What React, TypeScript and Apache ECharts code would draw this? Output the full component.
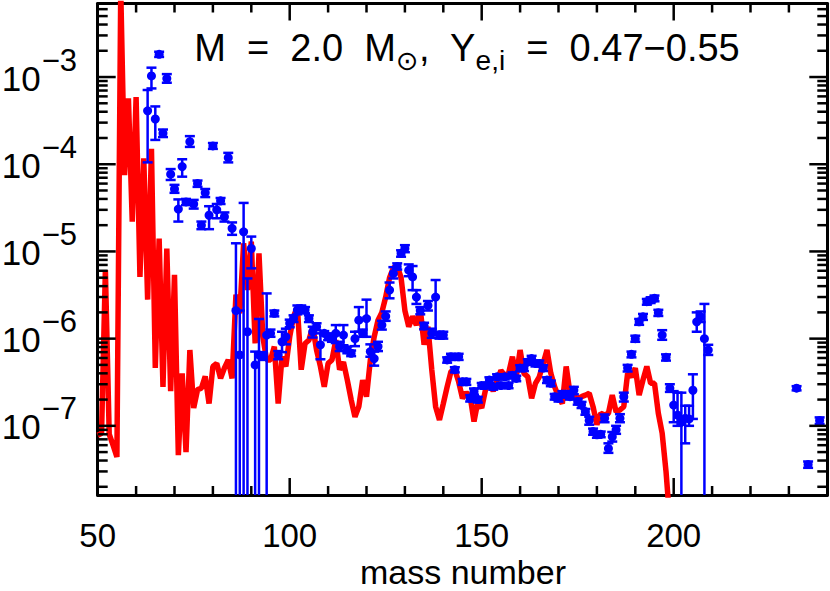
import React, { useEffect, useRef } from 'react';
import * as echarts from 'echarts';

const FONT = 'Liberation Sans, Arial, sans-serif';

const X_MIN = 50;
const X_MAX = 240;
const Y_MIN = 1.61e-8;
const Y_MAX = 6.97e-3;

const xMajorTicks = [50, 100, 150, 200];
const xTickLabels = ['50', '100', '150', '200'];
const xMinorTicks = [60, 70, 80, 90, 110, 120, 130, 140, 160, 170, 180, 190, 210, 220, 230];
const yMajorTicks = [1e-7, 1e-6, 1e-5, 1e-4, 1e-3];
const yExponents = ['−7', '−6', '−5', '−4', '−3'];
const yMinorTicks = [
  2e-8, 3e-8, 4e-8, 5e-8, 6e-8, 7e-8, 8e-8, 9e-8,
  2e-7, 3e-7, 4e-7, 5e-7, 6e-7, 7e-7, 8e-7, 9e-7,
  2e-6, 3e-6, 4e-6, 5e-6, 6e-6, 7e-6, 8e-6, 9e-6,
  2e-5, 3e-5, 4e-5, 5e-5, 6e-5, 7e-5, 8e-5, 9e-5,
  2e-4, 3e-4, 4e-4, 5e-4, 6e-4, 7e-4, 8e-4, 9e-4,
  2e-3, 3e-3, 4e-3, 5e-3, 6e-3,
];

// model curve (red)
const modelMass = [
  50, 51, 52, 53, 54, 55, 56, 57, 58, 59, 60, 61, 62, 63, 64, 65, 66, 67, 68, 69,
  70, 71, 72, 73, 74, 75, 76, 77, 78, 79, 80, 81, 82, 83, 84, 85, 86, 87, 88, 89,
  90, 91, 92, 93, 94, 95, 96, 97, 98, 99, 100, 101, 102, 103, 104, 105, 106, 107, 108, 109,
  110, 111, 112, 113, 114, 115, 116, 117, 118, 119, 120, 121, 122, 123, 124, 125, 126, 127, 128, 129,
  130, 131, 132, 133, 134, 135, 136, 137, 138, 139, 140, 141, 142, 143, 144, 145, 146, 147, 148, 149,
  150, 151, 152, 153, 154, 155, 156, 157, 158, 159, 160, 161, 162, 163, 164, 165, 166, 167, 168, 169,
  170, 171, 172, 173, 174, 175, 176, 177, 178, 179, 180, 181, 182, 183, 184, 185, 186, 187, 188, 189,
  190, 191, 192, 193, 194, 195, 196, 197, 198, 199,
];
const modelAbund = [
  7.8e-8, 8.2e-8, 6.1e-6, 8.0e-8, 6.0e-8, 4.4e-8, 1.0e-2, 7.5e-5, 5.7e-4, 2.2e-5,
  5.9e-4, 5.1e-6, 1.17e-4, 2.8e-6, 1.5e-4, 4.6e-7, 1.4e-5, 2.8e-7, 1.08e-5, 2.5e-7,
  5.4e-6, 4.6e-8, 4.0e-7, 5.0e-8, 7.4e-7, 1.6e-7, 2.6e-7, 2.7e-7, 3.7e-7, 1.8e-7,
  4.8e-7, 5.2e-7, 3.5e-7, 4.6e-7, 5.7e-7, 3.5e-7, 3.2e-6, 1.95e-6, 1.24e-5, 3.6e-6,
  1.3e-5, 8.8e-7, 9.5e-6, 1.05e-6, 5.7e-7, 5.7e-7, 8.1e-7, 1.8e-7, 6.2e-7, 4.8e-7,
  1.05e-6, 1.8e-6, 2.3e-6, 4.4e-7, 8.8e-7, 9.6e-7, 1.37e-6, 7.4e-7, 4.8e-7, 2.8e-7,
  5.2e-7, 5.7e-7, 9.6e-7, 4.4e-7, 5.4e-7, 3.35e-7, 2.0e-7, 1.27e-7, 1.66e-7, 3.35e-7,
  2.16e-7, 5.7e-7, 1.05e-6, 1.63e-6, 2.0e-6, 3.0e-6, 5.0e-6, 6.5e-6, 6.8e-6, 5.0e-6,
  2.1e-6, 1.37e-6, 1.8e-6, 1.43e-6, 2.2e-6, 8.5e-7, 1.37e-6, 4.4e-7, 1.66e-7, 1.17e-7,
  1.8e-7, 2.8e-7, 4.2e-7, 4.4e-7, 3.2e-7, 2.07e-7, 2.4e-7, 2.16e-7, 1.12e-7, 1.9e-7,
  1.6e-7, 2.6e-7, 3.2e-7, 2.5e-7, 3.3e-7, 4.3e-7, 3.8e-7, 4.0e-7, 6.2e-7, 3.65e-7,
  7.4e-7, 4.0e-7, 3.65e-7, 2.07e-7, 3.07e-7, 3.65e-7, 5.2e-7, 7.4e-7, 4.0e-7, 2.8e-7,
  2.16e-7, 1.8e-7, 4.8e-7, 2.36e-7, 2.16e-7, 2.07e-7, 2.16e-7, 2.25e-7, 2.36e-7, 1.66e-7,
  1.03e-7, 1.39e-7, 1.33e-7, 1.39e-7, 2.25e-7, 1.45e-7, 1.52e-7, 1.66e-7, 4.0e-7, 3.65e-7,
  4.6e-7, 2.25e-7, 3.35e-7, 4.8e-7, 3.07e-7, 3.07e-7, 1.39e-7, 8.2e-8, 3.0e-8, 8e-9,
];

// observed (blue) with error bars
const obsMass = [
  63, 64, 65, 66, 67, 68, 69, 70, 71, 72, 73, 74, 75, 76, 77, 78, 79, 80, 81, 82,
  83, 84, 85, 86, 87, 88, 89, 90, 91, 92, 93, 94, 95, 96, 97, 98, 99, 100, 101, 102,
  103, 104, 105, 106, 107, 108, 109, 110, 111, 112, 113, 114, 115, 116, 117, 118, 119, 120, 121, 122,
  123, 124, 125, 126, 127, 128, 129, 130, 131, 132, 133, 134, 135, 136, 137, 138, 139, 140, 141, 142,
  143, 144, 145, 146, 147, 148, 149, 150, 151, 152, 153, 154, 155, 156, 157, 158, 159, 160, 161, 162,
  163, 164, 165, 166, 167, 168, 169, 170, 171, 172, 173, 174, 175, 176, 177, 178, 179, 180, 181, 182,
  183, 184, 185, 186, 187, 188, 189, 190, 191, 192, 193, 194, 195, 196, 197, 198, 199, 200, 201, 202,
  203, 204, 205, 206, 207, 208, 209, 232, 235, 238,
];
const obsAbund = [
  4.1e-4, 1.03e-3, 3.3e-4, 1.82e-3, 2.26e-4, 9.6e-4, 7.7e-5, 5.2e-5, 3.06e-5, 9.4e-5,
  3.7e-5, 1.81e-4, 3.5e-5, 6.0e-5, 2.0e-5, 4.7e-5, 2.6e-5, 1.62e-4, 3.0e-5, 3.8e-5,
  2.5e-5, 1.19e-4, 1.84e-5, 2.1e-6, 6.5e-7, 1.68e-5, 1.2e-6, 1.08e-5, 5.0e-7, 6.5e-7,
  6.3e-7, 1.1e-6, 1.15e-6, 1.95e-6, 6.5e-7, 9.2e-7, 1.05e-6, 1.5e-6, 1.7e-6, 2.13e-6,
  2.2e-6, 2.13e-6, 1.7e-6, 1.2e-6, 1.37e-6, 8.5e-7, 1.15e-6, 1.05e-6, 1.0e-6, 1.15e-6,
  8.1e-7, 1.1e-6, 7.4e-7, 6.8e-7, 1.0e-6, 1.63e-6, 1.15e-6, 1.7e-6, 7.1e-7, 5.9e-7,
  8.1e-7, 1.43e-6, 1.8e-6, 3.6e-6, 5.6e-6, 6.7e-6, 9.5e-6, 1.08e-5, 6.1e-6, 5.1e-6,
  3.0e-6, 2.1e-6, 1.4e-6, 2.4e-6, 1.15e-6, 3.0e-6, 1.1e-6, 1.1e-6, 5.7e-7, 6.2e-7,
  4.4e-7, 6.2e-7, 3.2e-7, 3.2e-7, 2.07e-7, 2.47e-7, 2.0e-7, 2.9e-7, 2.9e-7, 3.35e-7,
  2.8e-7, 3.65e-7, 2.9e-7, 3.65e-7, 2.9e-7, 3.8e-7, 3.5e-7, 4.6e-7, 4.6e-7, 5.4e-7,
  5.9e-7, 5.2e-7, 5.2e-7, 4.6e-7, 3.35e-7, 3.07e-7, 2.16e-7, 2.07e-7, 2.3e-7, 2.3e-7,
  2.16e-7, 2.56e-7, 1.9e-7, 1.74e-7, 1.45e-7, 1.15e-7, 8.6e-8, 7.9e-8, 8.0e-8, 1.22e-7,
  5.5e-8, 7.5e-8, 9.0e-8, 1.22e-7, 2.16e-7, 4.6e-7, 6.6e-7, 1.0e-6, 1.56e-6, 1.78e-6,
  2.65e-6, 2.77e-6, 2.9e-6, 1.98e-6, 1.1e-6, 6.1e-7, 2.7e-7, 1.73e-7, 1.33e-7, 1.1e-7,
  1.22e-7, 1.2e-7, 2.56e-7, 1.56e-6, 1.78e-6, 1.0e-6, 7.4e-7, 2.7e-7, 3.6e-8, 1.15e-7,
];
const obsLow = [
  1.05e-4, 7.4e-4, 1.9e-4, 1.7e-3, 2.05e-4, 8.6e-4, 6.6e-5, 4.7e-5, 2.2e-5, 7.2e-5,
  3.4e-5, 1.58e-4, 3.1e-5, 5.5e-5, 1.8e-5, 4.2e-5, 1.8e-5, 1.5e-4, 2.4e-5, 3.5e-5,
  2.2e-5, 1.05e-4, 1.55e-5, 1e-9, 1e-9, 1e-9, 1e-9, 6.4e-6, 1e-9, 1e-9,
  5.7e-7, 1e-9, 1.05e-6, 1.8e-6, 5.8e-7, 7.0e-7, 8.6e-7, 1.35e-6, 1.55e-6, 1.9e-6,
  2.0e-6, 1.95e-6, 1.55e-6, 1.03e-6, 1.25e-6, 5.8e-7, 1.1e-6, 9.6e-7, 9.2e-7, 8.9e-7,
  7.2e-7, 8.4e-7, 6.8e-7, 6.3e-7, 8.2e-7, 1.2e-6, 1.05e-6, 1.05e-6, 6.2e-7, 4.9e-7,
  7.2e-7, 1.27e-6, 1.6e-6, 2.9e-6, 4.9e-6, 6.2e-6, 8.7e-6, 9.8e-6, 5.2e-6, 3.6e-6,
  2.5e-6, 1.9e-6, 1.28e-6, 2.1e-6, 1.02e-6, 1.15e-6, 1.0e-6, 1.0e-6, 5.3e-7, 5.7e-7,
  4.1e-7, 5.7e-7, 2.95e-7, 2.95e-7, 1.9e-7, 2.28e-7, 1.85e-7, 2.7e-7, 2.7e-7, 3.1e-7,
  2.6e-7, 3.4e-7, 2.7e-7, 3.4e-7, 2.7e-7, 3.5e-7, 3.25e-7, 4.25e-7, 4.25e-7, 5.0e-7,
  5.45e-7, 4.8e-7, 4.8e-7, 4.25e-7, 3.1e-7, 2.85e-7, 2.0e-7, 1.9e-7, 2.1e-7, 2.1e-7,
  2.0e-7, 2.3e-7, 1.75e-7, 1.6e-7, 1.34e-7, 1.03e-7, 7.9e-8, 7.3e-8, 7.4e-8, 1.1e-7,
  4.9e-8, 6.6e-8, 8.1e-8, 1.1e-7, 1.9e-7, 4.2e-7, 6.1e-7, 9.2e-7, 1.44e-6, 1.64e-6,
  2.45e-6, 2.56e-6, 2.68e-6, 1.82e-6, 9.7e-7, 5.6e-7, 2.45e-7, 1.1e-7, 1.0e-7, 1e-9,
  6.3e-8, 1.0e-7, 1.2e-7, 1.2e-6, 1.55e-6, 1e-9, 6.5e-7, 2.55e-7, 3.3e-8, 1.05e-7,
];
const obsHigh = [
  7.1e-4, 1.28e-3, 4.6e-4, 1.95e-3, 2.5e-4, 1.08e-3, 8.8e-5, 5.8e-5, 3.95e-5, 1.14e-4,
  4.0e-5, 2.1e-4, 3.9e-5, 6.5e-5, 2.2e-5, 5.2e-5, 3.3e-5, 1.75e-4, 3.5e-5, 4.1e-5,
  2.8e-5, 1.35e-4, 2.15e-5, 1.24e-5, 2.1e-6, 3.6e-5, 4.9e-6, 1.48e-5, 7.1e-7, 1.68e-6,
  7.0e-7, 3.3e-6, 1.27e-6, 2.1e-6, 7.2e-7, 1.2e-6, 1.3e-6, 1.65e-6, 1.85e-6, 2.4e-6,
  2.4e-6, 2.3e-6, 1.85e-6, 1.37e-6, 1.5e-6, 1.15e-6, 1.22e-6, 1.15e-6, 1.08e-6, 1.43e-6,
  9.2e-7, 1.43e-6, 8.1e-7, 7.3e-7, 1.2e-6, 2.3e-6, 1.27e-6, 2.8e-6, 8.6e-7, 7.1e-7,
  9.2e-7, 1.6e-6, 2.05e-6, 4.4e-6, 6.6e-6, 7.3e-6, 1.03e-5, 1.18e-5, 7.1e-6, 6.8e-6,
  3.6e-6, 2.3e-6, 1.52e-6, 2.7e-6, 1.3e-6, 4.7e-6, 1.2e-6, 1.2e-6, 6.1e-7, 6.7e-7,
  4.7e-7, 6.7e-7, 3.45e-7, 3.45e-7, 2.25e-7, 2.68e-7, 2.15e-7, 3.1e-7, 3.1e-7, 3.6e-7,
  3.0e-7, 3.9e-7, 3.1e-7, 3.9e-7, 3.1e-7, 4.1e-7, 3.75e-7, 4.95e-7, 4.95e-7, 5.8e-7,
  6.35e-7, 5.6e-7, 5.6e-7, 4.95e-7, 3.6e-7, 3.3e-7, 2.32e-7, 2.25e-7, 2.5e-7, 2.5e-7,
  2.32e-7, 2.8e-7, 2.05e-7, 1.88e-7, 1.56e-7, 1.27e-7, 9.3e-8, 8.5e-8, 8.6e-8, 1.35e-7,
  6.3e-8, 8.5e-8, 1.0e-7, 1.36e-7, 2.4e-7, 5.0e-7, 7.1e-7, 1.08e-6, 1.68e-6, 1.92e-6,
  2.85e-6, 2.98e-6, 3.12e-6, 2.14e-6, 1.25e-6, 6.6e-7, 3.0e-7, 2.5e-7, 2.4e-7, 2.4e-7,
  1.7e-7, 1.7e-7, 3.9e-7, 2.0e-6, 2.05e-6, 2.5e-6, 8.5e-7, 2.85e-7, 3.9e-8, 1.25e-7,
];

export default function App() {
  const ref = useRef<HTMLDivElement>(null);

  useEffect(() => {
    if (!ref.current) return;
    const chart = echarts.init(ref.current, undefined, { renderer: 'svg' });

    const modelData = modelMass.map((m, i) => [m, modelAbund[i]]);
    const obsData = obsMass.map((m, i) => [m, obsAbund[i], obsLow[i], obsHigh[i]]);

    const tickRender = (params: any, api: any) => {
      const cs = params.coordSys;
      const left = cs.x;
      const right = cs.x + cs.width;
      const top = cs.y;
      const bottom = cs.y + cs.height;
      const st = { stroke: '#000', lineWidth: 2.5 };
      const children: any[] = [];
      const ln = (x1: number, y1: number, x2: number, y2: number) =>
        children.push({ type: 'line', shape: { x1, y1, x2, y2 }, style: st });
      xMajorTicks.forEach((v, i) => {
        const px = api.coord([v, 1e-5])[0];
        ln(px, bottom, px, bottom - 17);
        ln(px, top, px, top + 17);
        children.push({
          type: 'text',
          x: px,
          y: bottom + 40,
          style: { text: xTickLabels[i], fontSize: 33, fontFamily: FONT, fill: '#000', align: 'center', verticalAlign: 'middle' },
        });
      });
      xMinorTicks.forEach((v) => {
        const px = api.coord([v, 1e-5])[0];
        ln(px, bottom, px, bottom - 9);
        ln(px, top, px, top + 9);
      });
      yMajorTicks.forEach((v, i) => {
        const py = api.coord([100, v])[1];
        ln(left, py, left + 18, py);
        ln(right, py, right - 18, py);
        children.push({
          type: 'text',
          x: left - 57,
          y: py + 1,
          style: { text: '10', fontSize: 35, fontFamily: FONT, fill: '#000', align: 'right', verticalAlign: 'middle' },
        });
        children.push({
          type: 'text',
          x: left - 56,
          y: py - 17,
          style: { text: yExponents[i], fontSize: 31, fontFamily: FONT, fill: '#000', align: 'left', verticalAlign: 'middle' },
        });
      });
      yMinorTicks.forEach((v) => {
        const py = api.coord([100, v])[1];
        ln(left, py, left + 10, py);
        ln(right, py, right - 10, py);
      });
      return { type: 'group', children };
    };

    const errRender = (params: any, api: any) => {
      const cs = params.coordSys;
      const top = cs.y;
      const bottom = cs.y + cs.height;
      const a = api.value(0);
      const p = api.coord([a, api.value(1)]);
      const pl = api.coord([a, api.value(2)]);
      const ph = api.coord([a, api.value(3)]);
      const clamp = (y: number) => Math.max(top, Math.min(bottom, y));
      const st = { stroke: '#0000ff', lineWidth: 2.5 };
      const children: any[] = [];
      children.push({ type: 'line', shape: { x1: p[0], y1: clamp(ph[1]), x2: p[0], y2: clamp(pl[1]) }, style: st });
      if (ph[1] >= top && ph[1] <= bottom)
        children.push({ type: 'line', shape: { x1: p[0] - 5, y1: ph[1], x2: p[0] + 5, y2: ph[1] }, style: st });
      if (pl[1] >= top && pl[1] <= bottom)
        children.push({ type: 'line', shape: { x1: p[0] - 5, y1: pl[1], x2: p[0] + 5, y2: pl[1] }, style: st });
      if (p[1] >= top && p[1] <= bottom)
        children.push({ type: 'circle', shape: { cx: p[0], cy: p[1], r: 4.5 }, style: { fill: '#0000ff' } });
      return { type: 'group', children };
    };

    chart.setOption({
      animation: false,
      backgroundColor: '#ffffff',
      grid: { left: 97.7, right: 2.7, top: 3.5, bottom: 96, containLabel: false, outerBoundsMode: 'none' },
      xAxis: [
        {
          type: 'value',
          position: 'bottom',
          min: X_MIN,
          max: X_MAX,
          interval: 50,
          axisLine: { show: true, onZero: false, lineStyle: { color: '#000', width: 3 } },
          axisTick: { show: false },
          axisLabel: { show: false },
          splitLine: { show: false },
        },
        {
          type: 'value',
          position: 'top',
          min: X_MIN,
          max: X_MAX,
          interval: 50,
          axisLine: { show: true, onZero: false, lineStyle: { color: '#000', width: 3 } },
          axisTick: { show: false },
          axisLabel: { show: false },
          splitLine: { show: false },
        },
      ],
      yAxis: [
        {
          type: 'log',
          logBase: 10,
          position: 'left',
          min: Y_MIN,
          max: Y_MAX,
          axisLine: { show: true, onZero: false, lineStyle: { color: '#000', width: 3 } },
          axisTick: { show: false },
          axisLabel: { show: false },
          splitLine: { show: false },
        },
        {
          type: 'log',
          logBase: 10,
          position: 'right',
          min: Y_MIN,
          max: Y_MAX,
          axisLine: { show: true, onZero: false, lineStyle: { color: '#000', width: 3 } },
          axisTick: { show: false },
          axisLabel: { show: false },
          splitLine: { show: false },
        },
      ],
      graphic: [
        {
          type: 'text',
          x: 467,
          y: 48,
          style: {
            text: '{n|M  =  2.0  M}{o|⊙}{n|,  Y}{s|e,i}{n|  =  0.47−0.55}',
            align: 'center',
            verticalAlign: 'middle',
            fill: '#000',
            rich: {
              n: { fontSize: 38, fontFamily: FONT, fill: '#000' },
              o: { fontSize: 27, fontFamily: 'DejaVu Sans', fill: '#000', padding: [24, 0, 0, 0] },
              s: { fontSize: 28, fontFamily: FONT, fill: '#000', padding: [24, 0, 0, 0] },
            },
          },
        },
        {
          type: 'text',
          x: 463,
          y: 572,
          style: {
            text: 'mass number',
            fontSize: 34,
            fontFamily: FONT,
            fill: '#000',
            align: 'center',
            verticalAlign: 'middle',
          },
        },
      ],
      series: [
        {
          type: 'line',
          name: 'model',
          data: modelData,
          xAxisIndex: 0,
          yAxisIndex: 0,
          showSymbol: false,
          symbol: 'none',
          clip: true,
          lineStyle: { color: '#ff0000', width: 5.5 },
          z: 2,
        },
        {
          type: 'custom',
          name: 'observed',
          data: obsData,
          xAxisIndex: 0,
          yAxisIndex: 0,
          encode: { x: 0, y: 1 },
          renderItem: errRender,
          clip: false,
          z: 3,
        },
        {
          type: 'custom',
          name: 'ticks',
          data: [[100, 1e-5]],
          xAxisIndex: 0,
          yAxisIndex: 0,
          encode: { x: 0, y: 1 },
          renderItem: tickRender,
          silent: true,
          clip: false,
          z: 4,
        },
      ],
    });

    return () => chart.dispose();
  }, []);

  return (
    <div
      ref={ref}
      style={{ position: 'fixed', left: 0, top: 0, width: 830, height: 591, background: '#fff' }}
    />
  );
}
